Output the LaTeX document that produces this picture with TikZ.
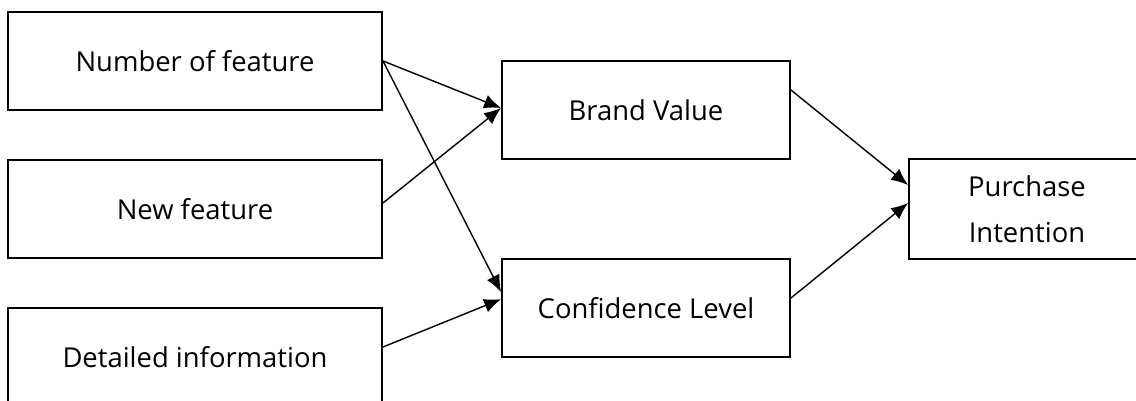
\documentclass[tikz,border=0pt]{standalone}
\usepackage{fontspec}
\setmainfont{Open Sans}
\usepackage{tikz}
\usetikzlibrary{arrows.meta,positioning}

\begin{document}
\begin{tikzpicture}[blk/.style={rectangle, draw, line width=1.4pt, minimum height=2.45cm, align=center, font=\fontsize{19.5}{33}\selectfont},
    >={Latex[length=12pt,width=10pt]}]
    \useasboundingbox (0,0) rectangle (28.4,10.025);
    \clip (0,0) rectangle (28.4,10.025);
    \node[blk, minimum width=9.35cm] (NF)  at (4.875,8.5)   {Number of feature};
    \node[blk, minimum width=9.35cm] (NW)  at (4.875,4.8)   {New feature};
    \node[blk, minimum width=9.35cm] (DI)  at (4.875,1.1)   {Detailed information};
    \node[blk, minimum width=7.2cm]  (BV)  at (16.15,7.275) {Brand Value};
    \node[blk, minimum width=7.2cm]  (CL)  at (16.15,2.325) {Confidence Level};
    \node[blk, minimum width=5.9cm, minimum height=2.5cm] (PI) at (25.675,4.8) {Purchase\\Intention};
    \draw[->, line width=1pt] (NF.east) -- ([yshift=0.5mm]BV.west);
    \draw[->, line width=1pt] (NF.east) -- ([yshift=4mm]CL.west);
    \draw[->, line width=1pt] ([yshift=1.5mm]NW.east) -- ([yshift=0.5mm]BV.west);
    \draw[->, line width=1pt] ([yshift=2.5mm]DI.east) -- ([yshift=2.2mm]CL.west);
    \draw[->, line width=1pt] ([yshift=5mm]BV.east) -- ([yshift=6mm]PI.west);
    \draw[->, line width=1pt] ([yshift=2.5mm]CL.east) -- ([yshift=1.5mm]PI.west);
  \end{tikzpicture}
\end{document}
